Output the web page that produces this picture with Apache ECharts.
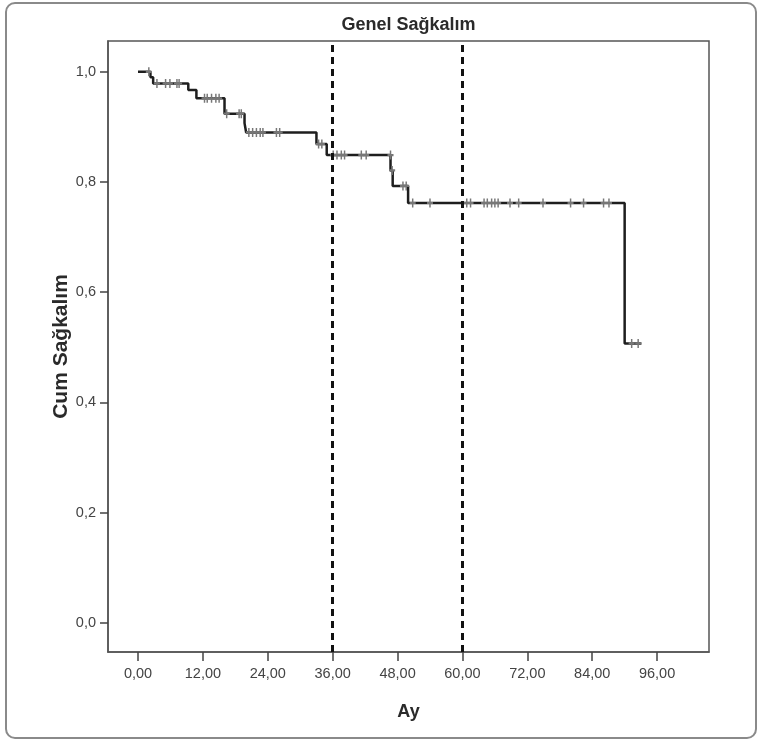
<!DOCTYPE html>
<html>
<head>
<meta charset="utf-8">
<script src="https://cdn.jsdelivr.net/npm/echarts@6/dist/echarts.min.js"></script>
<style>
html,body{margin:0;padding:0;background:#fff;}
#chart{width:762px;height:742px;}
</style>
</head>
<body>
<div id="chart"></div>
<script>
// Kaplan-Meier step data (time in months, cumulative survival)
var stepTimes = [0, 2.3, 2.8, 9.3, 10.8, 16.0, 19.7, 20.0, 33.0, 34.9, 46.7, 47.1, 49.95, 90.0];
var stepSurv  = [1.0, 0.990, 0.979, 0.967, 0.952, 0.924, 0.907, 0.890, 0.869, 0.849, 0.821, 0.793, 0.762, 0.507];
var lastTime = 93.1;

// Censored observations
var censorTimes = [2.0, 3.5, 5.1, 5.9, 7.2, 7.6, 12.3, 12.8, 13.6, 14.4, 15.0, 16.4, 18.7, 19.1,
  20.5, 21.2, 21.9, 22.6, 23.1, 25.6, 26.2, 33.4, 34.0, 36.1, 36.8, 37.6, 38.2, 41.3, 42.2, 46.7,
  47.0, 49.0, 49.6, 50.8, 54.0, 60.8, 61.5, 64.0, 64.6, 65.4, 66.0, 66.6, 68.8, 70.4, 74.9, 80.0,
  82.4, 86.1, 87.1, 91.3, 92.5];
var censorSurv = [1.0, 0.979, 0.979, 0.979, 0.979, 0.979, 0.952, 0.952, 0.952, 0.952, 0.952, 0.924, 0.924, 0.924,
  0.890, 0.890, 0.890, 0.890, 0.890, 0.890, 0.890, 0.869, 0.869, 0.849, 0.849, 0.849, 0.849, 0.849, 0.849, 0.849,
  0.821, 0.793, 0.793, 0.762, 0.762, 0.762, 0.762, 0.762, 0.762, 0.762, 0.762, 0.762, 0.762, 0.762, 0.762, 0.762,
  0.762, 0.762, 0.762, 0.507, 0.507];

var xTicks = [0, 12, 24, 36, 48, 60, 72, 84, 96];
var yTicks = [0, 0.2, 0.4, 0.6, 0.8, 1.0];
var refLines = [36, 60];

var titleText = 'Genel Sağkalım';
var xName = 'Ay';
var yName = 'Cum Sağkalım';

var FONT = "'Liberation Sans', Arial, sans-serif";

var stepData = stepTimes.map(function (t, i) { return [t, stepSurv[i]]; });
stepData.push([lastTime, stepSurv[stepSurv.length - 1]]);
var censorData = censorTimes.map(function (t, i) { return [t, censorSurv[i]]; });

var chart = echarts.init(document.getElementById('chart'), null, {renderer: 'canvas'});
chart.setOption({
  animation: false,
  backgroundColor: '#fff',
  graphic: [
    {type: 'rect', shape: {x: 6, y: 3, width: 750, height: 735, r: 9},
     style: {fill: 'none', stroke: '#8a8a8a', lineWidth: 2}, silent: true, z: -1},
    {type: 'text', x: 408.5, y: 25,
     style: {text: titleText, font: "bold 18px 'Liberation Sans', Arial, sans-serif", fill: '#2a2a2a',
             textAlign: 'center', textVerticalAlign: 'middle'}}
  ],
  grid: {left: 108, top: 41, right: 53, bottom: 90, show: true, borderColor: '#555', borderWidth: 1.5, backgroundColor: '#fff'},
  xAxis: {
    type: 'value', min: -5.55, max: 105.6,
    name: xName, nameLocation: 'middle', nameGap: 51,
    nameTextStyle: {fontFamily: FONT, fontWeight: 'bold', fontSize: 18, color: '#2a2a2a'},
    axisLine: {show: true, onZero: false, lineStyle: {color: '#555', width: 1.5}},
    axisTick: {show: true, customValues: xTicks, length: 9, lineStyle: {color: '#444', width: 1.5}},
    axisLabel: {customValues: xTicks, margin: 14, fontFamily: FONT, fontSize: 14.5, color: '#444',
      formatter: function (v) { return v.toFixed(2).replace('.', ','); }},
    splitLine: {show: false}
  },
  yAxis: {
    type: 'value', min: -0.053, max: 1.056,
    name: yName, nameLocation: 'middle', nameGap: 36, nameRotate: 90, nameMoveOverlap: false,
    nameTextStyle: {fontFamily: FONT, fontWeight: 'bold', fontSize: 21, color: '#2a2a2a'},
    axisLine: {show: true, onZero: false, lineStyle: {color: '#555', width: 1.5}},
    axisTick: {show: true, customValues: yTicks, length: 8, lineStyle: {color: '#444', width: 1.5}},
    axisLabel: {customValues: yTicks, margin: 12, fontFamily: FONT, fontSize: 14.5, color: '#444',
      formatter: function (v) { return v.toFixed(1).replace('.', ','); }},
    splitLine: {show: false}
  },
  series: [
    {
      type: 'line', step: 'end', data: stepData, showSymbol: false, symbol: 'none',
      lineStyle: {color: '#1e1e1e', width: 2.5}, z: 3,
      markLine: {
        silent: true, symbol: 'none', label: {show: false},
        lineStyle: {color: '#111', type: [7, 5], width: 3},
        data: refLines.map(function (v) { return {xAxis: v}; })
      }
    },
    {
      type: 'scatter', data: censorData,
      symbol: 'path://M5,0L5,10M0,5L10,5', symbolSize: [6, 9],
      itemStyle: {color: 'none', borderColor: '#777', borderWidth: 1.8, opacity: 1},
      z: 4
    }
  ]
});
</script>
</body>
</html>
